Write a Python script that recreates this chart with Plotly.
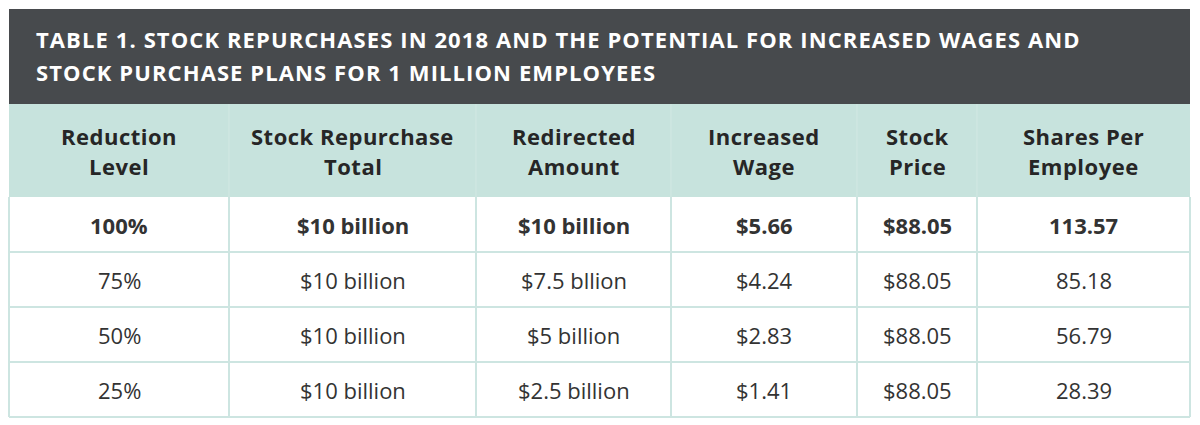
import plotly.graph_objects as go

# ---------------- data ----------------
title_lines = [
    "TABLE 1. STOCK REPURCHASES IN 2018 AND THE POTENTIAL FOR INCREASED WAGES AND",
    "STOCK PURCHASE PLANS FOR 1 MILLION EMPLOYEES",
]
headers = [["Reduction", "Level"], ["Stock Repurchase", "Total"], ["Redirected", "Amount"],
           ["Increased", "Wage"], ["Stock", "Price"], ["Shares Per", "Employee"]]
reduction_level = ["100%", "75%", "50%", "25%"]
repurchase_total = ["$10 billion", "$10 billion", "$10 billion", "$10 billion"]
redirected_amount = ["$10 billion", "$7.5 bllion", "$5 billion", "$2.5 billion"]
increased_wage = ["$5.66", "$4.24", "$2.83", "$1.41"]
stock_price = ["$88.05", "$88.05", "$88.05", "$88.05"]
shares_per_employee = ["113.57", "85.18", "56.79", "28.39"]

columns = [reduction_level, repurchase_total, redirected_amount,
           increased_wage, stock_price, shares_per_employee]

# ---------------- layout / style ----------------
W, H = 1184, 417
col_widths = [220, 247, 195, 186, 120, 213]
TITLE_TOP, TITLE_BOTTOM = 1, 96
HEADER_BOTTOM = 189
ROW_H = 55
FONT = "Open Sans, sans-serif"
DARK = "#474a4d"
TEAL = "#c7e3dd"
LINE = "#cde5e1"
HEAD_DIV = "#d2e8e3"

edges = [0]
for w in col_widths:
    edges.append(edges[-1] + w)
centers = [(edges[i] + edges[i + 1]) / 2 for i in range(len(col_widths))]
n_rows = len(reduction_level)
row_edges = [HEADER_BOTTOM + ROW_H * i for i in range(n_rows + 1)]

fig = go.Figure()
shapes = []
annotations = []

# title bar
shapes.append(dict(type="rect", x0=edges[0], x1=edges[-1], y0=TITLE_TOP, y1=TITLE_BOTTOM,
                   fillcolor=DARK, line=dict(width=0), layer="below"))
for i, t in enumerate(title_lines):
    annotations.append(dict(x=25, y=31 + 33 * i, xanchor="left", yanchor="middle",
                            text="<b><span style='letter-spacing:1.1px'>" + t + "</span></b>",
                            showarrow=False,
                            font=dict(family=FONT, size=22, color="white")))

# header
shapes.append(dict(type="rect", x0=edges[0], x1=edges[-1], y0=TITLE_BOTTOM, y1=HEADER_BOTTOM,
                   fillcolor=TEAL, line=dict(width=0), layer="below"))
for x in edges[1:-1]:
    shapes.append(dict(type="line", x0=x, x1=x, y0=TITLE_BOTTOM, y1=HEADER_BOTTOM,
                       line=dict(color=HEAD_DIV, width=1)))
for c, hdr in enumerate(headers):
    for j, line in enumerate(hdr):
        annotations.append(dict(x=centers[c], y=128 + 30 * j, xanchor="center", yanchor="middle",
                                text="<b><span style='letter-spacing:0.5px'>" + line + "</span></b>",
                                showarrow=False,
                                font=dict(family=FONT, size=22, color="#262626")))

# body grid
for y in row_edges[1:]:
    shapes.append(dict(type="line", x0=edges[0], x1=edges[-1], y0=y, y1=y,
                       line=dict(color=LINE, width=2)))
for x in edges:
    shapes.append(dict(type="line", x0=x, x1=x, y0=HEADER_BOTTOM, y1=row_edges[-1],
                       line=dict(color=LINE, width=2)))

# cells
for c, col in enumerate(columns):
    for r, v in enumerate(col):
        txt = "<b>" + v + "</b>" if r == 0 else v
        annotations.append(dict(x=centers[c], y=(row_edges[r] + row_edges[r + 1]) / 2,
                                xanchor="center", yanchor="middle", text=txt, showarrow=False,
                                font=dict(family=FONT, size=22, color="#333333")))

fig.update_layout(
    width=W, height=H, margin=dict(l=0, r=0, t=0, b=0),
    paper_bgcolor="white", plot_bgcolor="white",
    xaxis=dict(range=[-1, W - 1], visible=False, fixedrange=True),
    yaxis=dict(range=[H, 0], visible=False, fixedrange=True),
    shapes=shapes, annotations=annotations, showlegend=False,
)
fig.write_html("out.html", config={"displayModeBar": False})
